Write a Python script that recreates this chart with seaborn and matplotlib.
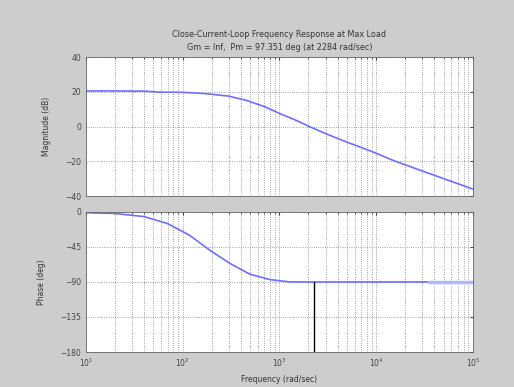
import numpy as np
import pandas as pd
import matplotlib
matplotlib.use("Agg")
import matplotlib.pyplot as plt
import seaborn as sns
from matplotlib.ticker import LogLocator, FixedLocator

# magnitude response
mag_freq = [10, 20, 40, 58, 100, 170, 300, 460, 700, 1000, 1500, 2100, 3300,
            5000, 8700, 15000, 28000, 50000, 100000]
mag_db = [20.5, 20.5, 20.4, 19.8, 19.7, 19.0, 17.5, 15.0, 11.5, 7.6, 3.5, -0.3,
          -5.0, -9.0, -14.0, -19.5, -25.0, -30.0, -36.0]

# phase response
phase_freq = [10, 20, 40, 70, 118, 190, 307, 495, 800, 1290, 3000, 10000, 35000]
phase_deg = [-1, -2, -6, -15, -30, -49, -66, -80, -87, -90, -90, -90, -90]
phase_tail_freq = [35000, 100000]
phase_tail_deg = [-90, -90]

# crossover marker
wc = 2284
wc_phase = -90

mag_ticks = [-40, -20, 0, 20, 40]
phase_ticks = [-180, -135, -90, -45, 0]

title = ("Close-Current-Loop Frequency Response at Max Load\n"
         "Gm = Inf,  Pm = 97.351 deg (at 2284 rad/sec)")

sns.set_style("white")
plt.rcParams["font.family"] = ["DejaVu Sans"]

line_col = "#6e6eff"
bg = "#cdcdcd"

fig = plt.figure(figsize=(5.14, 3.87), dpi=100, facecolor=bg)
ax1 = fig.add_axes([0.167, 0.4935, 0.753, 0.359])
ax2 = fig.add_axes([0.167, 0.0904, 0.753, 0.362])

mag_df = pd.DataFrame({"freq": mag_freq, "mag": mag_db})
phase_df = pd.DataFrame({"freq": phase_freq, "phase": phase_deg})
tail_df = pd.DataFrame({"freq": phase_tail_freq, "phase": phase_tail_deg})

sns.lineplot(data=mag_df, x="freq", y="mag", ax=ax1, color=line_col, lw=1.2)
sns.lineplot(data=phase_df, x="freq", y="phase", ax=ax2, color=line_col, lw=1.2)
sns.lineplot(data=tail_df, x="freq", y="phase", ax=ax2, color="#b4b4ff", lw=2.5)
ax2.plot([wc, wc], [-180, wc_phase], color="k", lw=1.0)

for ax, yt, yl in [(ax1, mag_ticks, "Magnitude (dB)"), (ax2, phase_ticks, "Phase (deg)")]:
    ax.set_facecolor("white")
    ax.set_xscale("log")
    ax.set_xlim(1e1, 1e5)
    ax.set_ylim(yt[0], yt[-1])
    ax.yaxis.set_major_locator(FixedLocator(yt))
    ax.xaxis.set_major_locator(LogLocator(base=10, numticks=10))
    ax.xaxis.set_minor_locator(LogLocator(base=10, subs=np.arange(2, 10), numticks=10))
    ax.grid(True, which="both", linestyle=":", color="#888888", lw=0.6)
    ax.tick_params(axis="both", which="both", direction="in", labelsize=5.5,
                   colors="#444444", length=2, top=True, right=True)
    ax.tick_params(which="minor", length=1.2)
    ax.set_ylabel(yl, fontsize=5.5, color="#333333", labelpad=10)
    ax.set_xlabel("")
    for s in ax.spines.values():
        s.set_color("#666666")
        s.set_linewidth(0.6)

ax1.tick_params(axis="x", which="both", labelbottom=False)
ax2.set_xlabel("Frequency (rad/sec)", fontsize=5.5, color="#333333")
ax1.set_title(title, fontsize=5.8, color="#333333", linespacing=1.6, pad=5)

fig.savefig("out.png", dpi=100, facecolor=bg)
